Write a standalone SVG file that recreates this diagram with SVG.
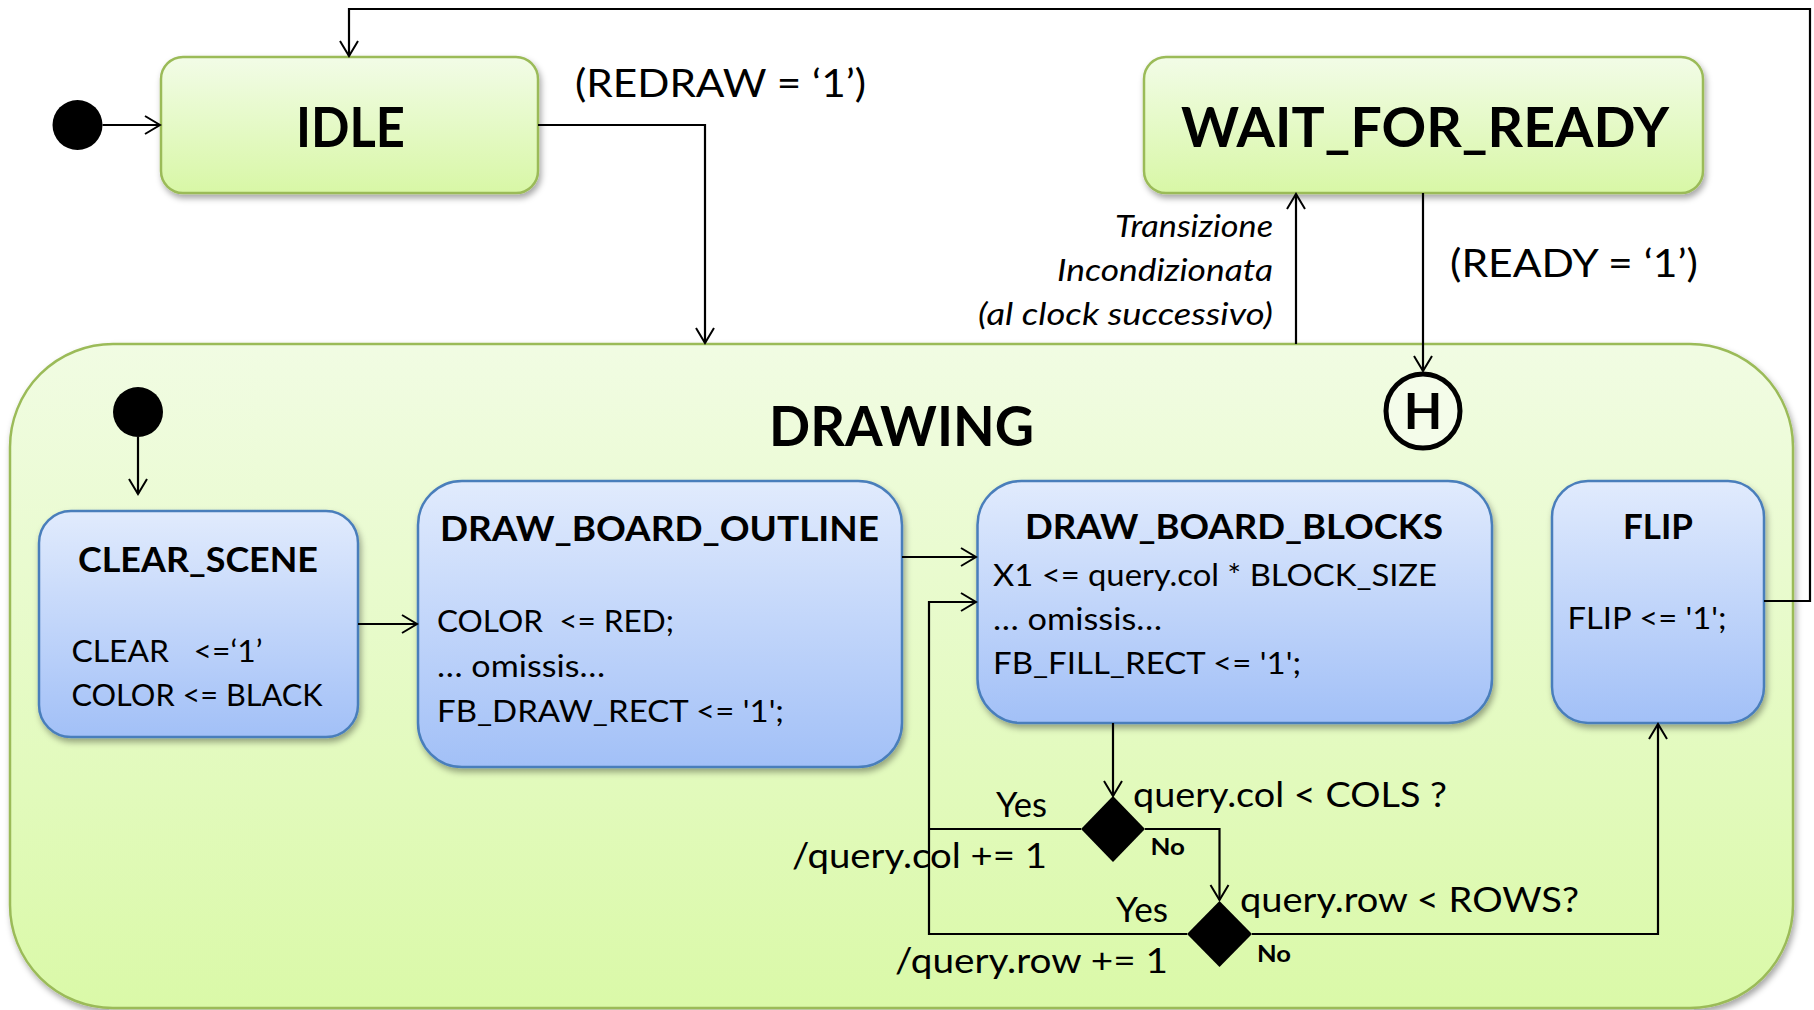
<svg xmlns="http://www.w3.org/2000/svg" width="1814" height="1010" viewBox="0 0 1814 1010">
  <defs>
    <linearGradient id="gGreen" x1="0" y1="0" x2="0" y2="1">
      <stop offset="0" stop-color="#F2FCE7"/>
      <stop offset="1" stop-color="#D8F7A6"/>
    </linearGradient>
    <linearGradient id="gDraw" x1="0" y1="0" x2="0" y2="1">
      <stop offset="0" stop-color="#F1FCE3"/>
      <stop offset="1" stop-color="#DAF9A8"/>
    </linearGradient>
    <linearGradient id="gBlue" x1="0" y1="0" x2="0" y2="1">
      <stop offset="0" stop-color="#E1EBFD"/>
      <stop offset="1" stop-color="#A2C0F7"/>
    </linearGradient>
    <filter id="shadow" x="-10%" y="-10%" width="125%" height="130%">
      <feDropShadow dx="2" dy="4" stdDeviation="3" flood-color="#000" flood-opacity="0.35"/>
    </filter>
    <marker id="arr" viewBox="-17 -11 19 22" markerWidth="19" markerHeight="22" refX="0" refY="0" orient="auto" markerUnits="userSpaceOnUse">
      <path d="M-15,-9 L0,0 L-15,9" fill="none" stroke="#000" stroke-width="2"/>
    </marker>
    <style>
      .t { font-family: Lato, "Open Sans", "Liberation Sans", sans-serif; fill: #000; }
      .b { font-weight: bold; }
      .i { font-style: italic; }
      .green { fill: url(#gGreen); stroke: #9BBB59; stroke-width: 2.5; filter: url(#shadow); }
      .blue { fill: url(#gBlue); stroke: #4A7EBB; stroke-width: 2.5; filter: url(#shadow); }
      .conn { fill: none; stroke: #000; stroke-width: 2.2; }
      .pre { white-space: pre; }
    </style>
  </defs>

  <rect width="1814" height="1010" fill="#FFFFFF"/>

  <!-- composite state DRAWING -->
  <g id="drawing">
    <rect x="10" y="344" width="1783" height="664" rx="103" ry="103" fill="url(#gDraw)" stroke="#9BBB59" stroke-width="2.5" filter="url(#shadow)"/>
    <text class="t b" x="769" y="446" font-size="56" textLength="265" lengthAdjust="spacingAndGlyphs">DRAWING</text>
  </g>

  <!-- initial pseudo-states -->
  <g id="init-top">
    <circle cx="77.5" cy="125" r="25" fill="#000"/>
  </g>
  <g id="init-drawing">
    <circle cx="138" cy="412" r="25" fill="#000"/>
  </g>

  <!-- shallow history -->
  <g id="history">
    <circle cx="1423" cy="411" r="37" fill="#F4FCEA" stroke="#000" stroke-width="5"/>
    <text class="t b" x="1423" y="429" font-size="50" text-anchor="middle">H</text>
  </g>

  <g id="idle">
    <rect class="green" x="161" y="57" width="377" height="136" rx="22" ry="22"/>
    <text class="t b" x="296" y="147" font-size="56" textLength="109" lengthAdjust="spacingAndGlyphs">IDLE</text>
  </g>

  <g id="wait-for-ready">
    <rect class="green" x="1144" y="57" width="559" height="136" rx="22" ry="22"/>
    <text class="t b" x="1181" y="147" font-size="56" textLength="488" lengthAdjust="spacingAndGlyphs">WAIT_FOR_READY</text>
  </g>

  <g id="clear-scene">
    <rect class="blue" x="39" y="511" width="319" height="226" rx="32" ry="32"/>
    <text class="t b" x="78" y="572" font-size="35" textLength="240" lengthAdjust="spacingAndGlyphs">CLEAR_SCENE</text>
    <text class="t pre" x="71.5" y="662" font-size="30" textLength="191" lengthAdjust="spacingAndGlyphs">CLEAR   &lt;=‘1’</text>
    <text class="t" x="71.5" y="706" font-size="30" textLength="251" lengthAdjust="spacingAndGlyphs">COLOR &lt;= BLACK</text>
  </g>

  <g id="draw-board-outline">
    <rect class="blue" x="418" y="481" width="484" height="286" rx="44" ry="44"/>
    <text class="t b" x="440" y="541" font-size="34" textLength="439" lengthAdjust="spacingAndGlyphs">DRAW_BOARD_OUTLINE</text>
    <text class="t pre" x="437" y="632" font-size="30" textLength="237" lengthAdjust="spacingAndGlyphs">COLOR  &lt;= RED;</text>
    <text class="t" x="437" y="677" font-size="30" textLength="168" lengthAdjust="spacingAndGlyphs">… omissis…</text>
    <text class="t" x="437" y="722" font-size="30" textLength="347" lengthAdjust="spacingAndGlyphs">FB_DRAW_RECT &lt;= '1';</text>
  </g>

  <g id="draw-board-blocks">
    <rect class="blue" x="977.5" y="481" width="514.5" height="242" rx="44" ry="44"/>
    <text class="t b" x="1025" y="539" font-size="34" textLength="418" lengthAdjust="spacingAndGlyphs">DRAW_BOARD_BLOCKS</text>
    <text class="t" x="993" y="586" font-size="30" textLength="444" lengthAdjust="spacingAndGlyphs">X1 &lt;= query.col * BLOCK_SIZE</text>
    <text class="t" x="993" y="630" font-size="30" textLength="169" lengthAdjust="spacingAndGlyphs">… omissis…</text>
    <text class="t" x="993" y="674" font-size="30" textLength="308" lengthAdjust="spacingAndGlyphs">FB_FILL_RECT &lt;= '1';</text>
  </g>

  <g id="flip">
    <rect class="blue" x="1552" y="481" width="212" height="242" rx="36" ry="36"/>
    <text class="t b" x="1623" y="539" font-size="34" textLength="70" lengthAdjust="spacingAndGlyphs">FLIP</text>
    <text class="t" x="1567.5" y="629" font-size="30" textLength="159" lengthAdjust="spacingAndGlyphs">FLIP &lt;= '1';</text>
  </g>

  <!-- choice points -->
  <g id="choice-cols">
    <polygon points="1113,796 1145,829 1113,862 1081,829" fill="#000"/>
  </g>
  <g id="choice-rows">
    <polygon points="1219.5,901 1252,934 1219.5,967 1187,934" fill="#000"/>
  </g>

  <!-- transitions -->
  <g id="connectors">
    <path class="conn" d="M102.5,125 H160" marker-end="url(#arr)"/>
    <path class="conn" d="M538,125 H705 V343" marker-end="url(#arr)"/>
    <path class="conn" d="M1764,601 H1810 V9 H349 V56" stroke-width="2.8" marker-end="url(#arr)"/>
    <path class="conn" d="M1296,344 V194" marker-end="url(#arr)"/>
    <path class="conn" d="M1423,193 V371" marker-end="url(#arr)"/>
    <path class="conn" d="M138,437 V494" marker-end="url(#arr)"/>
    <path class="conn" d="M358,624 H417" marker-end="url(#arr)"/>
    <path class="conn" d="M902,557 H976" marker-end="url(#arr)"/>
    <path class="conn" d="M1187,934 H929 V602 H976" marker-end="url(#arr)"/>
    <path class="conn" d="M1081,829 H929"/>
    <path class="conn" d="M1113,723 V796" marker-end="url(#arr)"/>
    <path class="conn" d="M1145,829 H1219.5 V900" marker-end="url(#arr)"/>
    <path class="conn" d="M1252,934 H1658 V724" marker-end="url(#arr)"/>
  </g>

  <!-- transition labels -->
  <g id="labels">
    <text class="t" x="575" y="97" font-size="39" textLength="291" lengthAdjust="spacingAndGlyphs">(REDRAW = ‘1’)</text>
    <text class="t" x="1450" y="277" font-size="39" textLength="248" lengthAdjust="spacingAndGlyphs">(READY = ‘1’)</text>
    <text class="t i" x="1115" y="237" font-size="30" textLength="158" lengthAdjust="spacingAndGlyphs">Transizione</text>
    <text class="t i" x="1057" y="281" font-size="30" textLength="216" lengthAdjust="spacingAndGlyphs">Incondizionata</text>
    <text class="t i" x="978" y="325" font-size="30" textLength="295" lengthAdjust="spacingAndGlyphs">(al clock successivo)</text>
    <text class="t" x="1133" y="807" font-size="35" textLength="314" lengthAdjust="spacingAndGlyphs">query.col &lt; COLS ?</text>
    <text class="t" x="996" y="817" font-size="34" textLength="51" lengthAdjust="spacingAndGlyphs">Yes</text>
    <text class="t b" x="1150.5" y="855" font-size="23" textLength="34.5" lengthAdjust="spacingAndGlyphs">No</text>
    <text class="t" x="792" y="868" font-size="34" textLength="255" lengthAdjust="spacingAndGlyphs">/query.col += 1</text>
    <text class="t" x="1240" y="912" font-size="35" textLength="339" lengthAdjust="spacingAndGlyphs">query.row &lt; ROWS?</text>
    <text class="t" x="1116" y="922" font-size="34" textLength="52" lengthAdjust="spacingAndGlyphs">Yes</text>
    <text class="t b" x="1257" y="962" font-size="23" textLength="34" lengthAdjust="spacingAndGlyphs">No</text>
    <text class="t" x="895" y="973" font-size="34" textLength="273" lengthAdjust="spacingAndGlyphs">/query.row += 1</text>
  </g>
</svg>
